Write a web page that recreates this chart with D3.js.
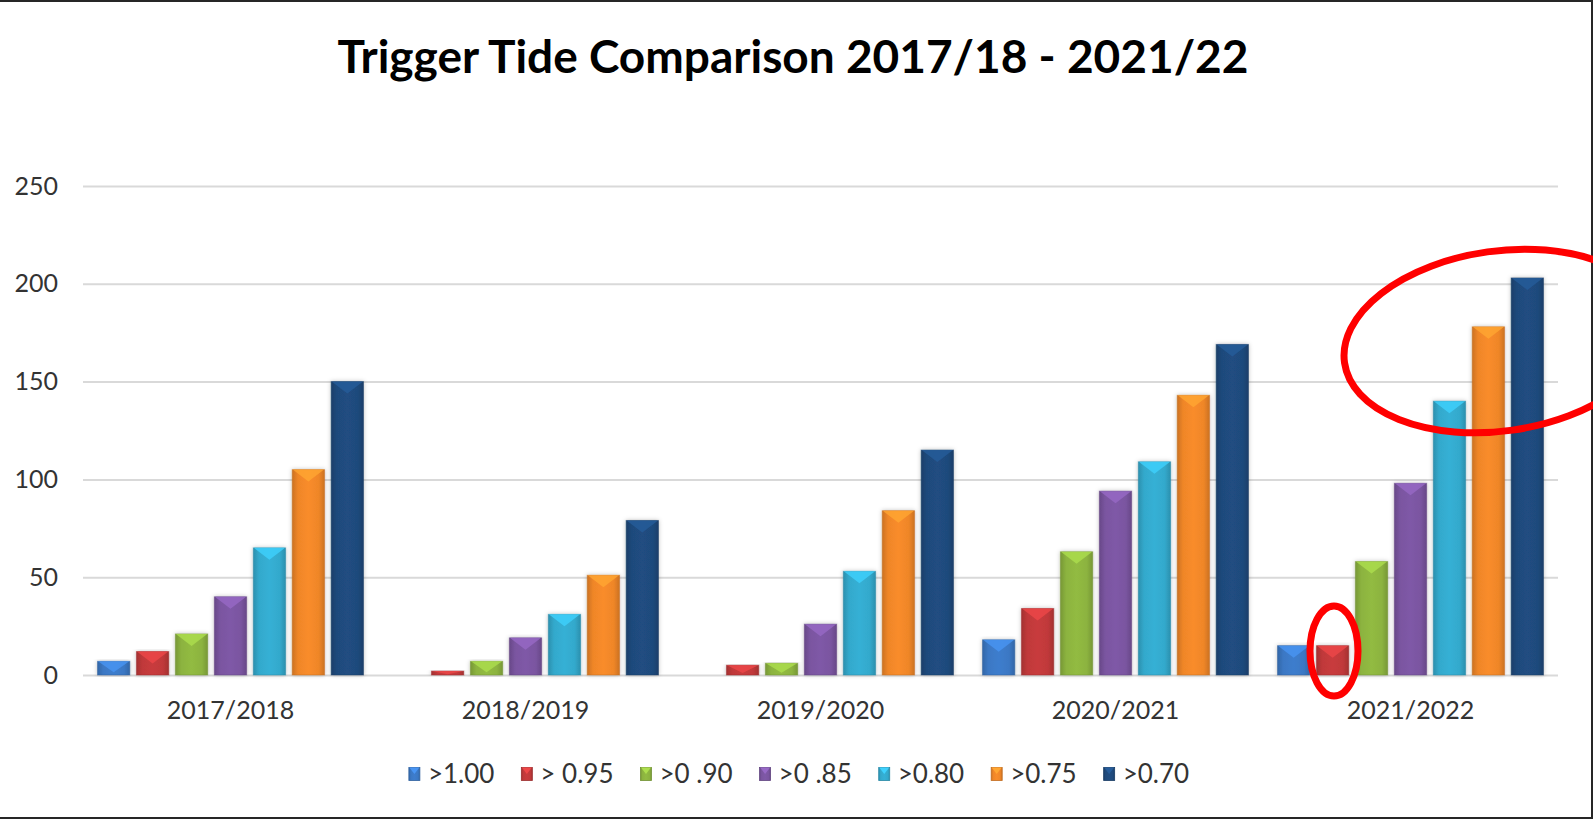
<!DOCTYPE html>
<html>
<head>
<meta charset="utf-8">
<script src="https://cdn.jsdelivr.net/npm/d3@7"></script>
<style>
  body { margin: 0; background: #fff; }
  text { font-family: Lato, "Open Sans", sans-serif; }
</style>
</head>
<body>
<div id="chart"></div>
<script>
// data
var years = ["2017/2018", "2018/2019", "2019/2020", "2020/2021", "2021/2022"];
var seriesNames = [">1.00", "> 0.95", ">0 .90", ">0 .85", ">0.80", ">0.75", ">0.70"];
var gt100 = [7, 0, 0, 18, 15];
var gt095 = [12, 2, 5, 34, 15];
var gt090 = [21, 7, 6, 63, 58];
var gt085 = [40, 19, 26, 94, 98];
var gt080 = [65, 31, 53, 109, 140];
var gt075 = [105, 51, 84, 143, 178];
var gt070 = [150, 79, 115, 169, 203];
var yTicks = [0, 50, 100, 150, 200, 250];

var seriesValues = [gt100, gt095, gt090, gt085, gt080, gt075, gt070];
var colors = ["#3b78c4", "#c0393a", "#8cb33f", "#7a55a0", "#33a9cc", "#ef8628", "#1f4a7c"];

var W = 1593, H = 819;
var margin = {top: 186, right: 35, bottom: 144, left: 83};
var width = W - margin.left - margin.right,
    height = H - margin.top - margin.bottom;

var svg = d3.select("#chart").append("svg")
    .attr("width", W)
    .attr("height", H);

var defs = svg.append("defs");

// horizontal shading for each series, darker at the edges
colors.forEach(function(c, i) {
    var g = defs.append("linearGradient")
        .attr("id", "grad" + i)
        .attr("x1", "0%").attr("x2", "100%").attr("y1", "0%").attr("y2", "0%");
    g.append("stop").attr("offset", "0%").attr("stop-color", d3.color(c).darker(0.45));
    g.append("stop").attr("offset", "18%").attr("stop-color", d3.color(c));
    g.append("stop").attr("offset", "50%").attr("stop-color", d3.color(c).brighter(0.12));
    g.append("stop").attr("offset", "82%").attr("stop-color", d3.color(c));
    g.append("stop").attr("offset", "100%").attr("stop-color", d3.color(c).darker(0.45));
});

var shadow = defs.append("filter").attr("id", "shadow")
    .attr("x", "-30%").attr("y", "-10%").attr("width", "160%").attr("height", "120%");
shadow.append("feDropShadow")
    .attr("dx", 0).attr("dy", 0).attr("stdDeviation", 2)
    .attr("flood-color", "#000").attr("flood-opacity", 0.25);

// frame
svg.append("rect").attr("x", 0).attr("y", 0).attr("width", W).attr("height", 2).attr("fill", "#262626");
svg.append("rect").attr("x", W - 2).attr("y", 0).attr("width", 2).attr("height", H).attr("fill", "#262626");
svg.append("rect").attr("x", 0).attr("y", H - 2).attr("width", W).attr("height", 2).attr("fill", "#262626");

// title
svg.append("text")
    .attr("x", 793)
    .attr("y", 73)
    .attr("text-anchor", "middle")
    .attr("font-size", 46)
    .attr("font-weight", "bold")
    .attr("fill", "#000")
    .text("Trigger Tide Comparison 2017/18 - 2021/22");

var g = svg.append("g")
    .attr("transform", "translate(" + margin.left + "," + margin.top + ")");

var y = d3.scaleLinear().domain([0, 250]).range([height, 0]);
var x0 = d3.scaleBand().domain(years).range([0, width]);
var x1 = d3.scaleBand().domain(seriesNames)
    .range([14.5, x0.bandwidth() - 14.5])
    .paddingInner(0.17);

// gridlines + y labels
var yAxis = g.append("g")
    .call(d3.axisLeft(y).tickValues(yTicks).tickSize(-width).tickPadding(25));
yAxis.select(".domain").remove();
yAxis.selectAll(".tick line").attr("stroke", "#d9d9d9").attr("stroke-width", 2);
yAxis.selectAll(".tick text")
    .attr("font-size", 25)
    .attr("fill", "#333")
    .style("font-family", "Lato, sans-serif");

var xAxis = g.append("g")
    .attr("transform", "translate(0," + height + ")")
    .call(d3.axisBottom(x0).tickSize(0).tickPadding(26));
xAxis.select(".domain").remove();
xAxis.selectAll(".tick text")
    .attr("font-size", 25)
    .attr("fill", "#333")
    .style("font-family", "Lato, sans-serif");

// bars
var bars = [];
years.forEach(function(yr, yi) {
    seriesNames.forEach(function(s, si) {
        bars.push({year: yr, series: s, si: si, value: seriesValues[si][yi]});
    });
});

var barG = g.append("g").selectAll("g.bar")
    .data(bars.filter(function(d) { return d.value > 0; }))
    .enter().append("g")
    .attr("class", "bar")
    .attr("transform", function(d) { return "translate(" + (x0(d.year) + x1(d.series)) + ",0)"; });

barG.append("rect")
    .attr("x", 0)
    .attr("y", function(d) { return y(d.value); })
    .attr("width", x1.bandwidth())
    .attr("height", function(d) { return height - y(d.value); })
    .attr("fill", function(d) { return "url(#grad" + d.si + ")"; })
    .attr("stroke", function(d) { return d3.color(colors[d.si]).darker(0.6); })
    .attr("stroke-opacity", 0.5)
    .attr("stroke-width", 1)
    .attr("filter", "url(#shadow)");

// top bevel, a lighter wedge
barG.append("path")
    .attr("d", function(d) {
        var w = x1.bandwidth(), top = y(d.value);
        var h = Math.min(12, (height - top) * 0.8);
        return "M0.5," + top + "L" + (w - 0.5) + "," + top + "L" + (w / 2) + "," + (top + h) + "Z";
    })
    .attr("fill", function(d) { return d3.color(colors[d.si]).brighter(0.6); })
    .attr("opacity", 0.8);

// legend
var legend = svg.append("g").attr("transform", "translate(0,774)");
var items = legend.selectAll("g.item")
    .data(seriesNames)
    .enter().append("g")
    .attr("class", "item");

items.append("rect")
    .attr("x", 0).attr("y", -6.5)
    .attr("width", 11).attr("height", 13)
    .attr("fill", function(d, i) { return "url(#grad" + i + ")"; })
    .attr("stroke", function(d, i) { return d3.color(colors[i]).darker(0.6); })
    .attr("stroke-width", 0.8);
items.append("path")
    .attr("d", "M0.5,-6.5L10.5,-6.5L5.5,0Z")
    .attr("fill", function(d, i) { return d3.color(colors[i]).brighter(0.6); });
items.append("text")
    .attr("x", 19)
    .attr("dy", "0.35em")
    .attr("font-size", 26)
    .attr("fill", "#333")
    .text(function(d) { return d; });

var gap = 27;
var pos = 0, offsets = [];
items.each(function() {
    offsets.push(pos);
    pos += this.getBBox().width + gap;
});
var total = pos - gap;
var startX = 799 - total / 2;
items.attr("transform", function(d, i) { return "translate(" + (startX + offsets[i]) + ",0)"; });

// red hand-drawn highlight rings
svg.append("ellipse")
    .attr("cx", 1500).attr("cy", 341)
    .attr("rx", 157).attr("ry", 90)
    .attr("transform", "rotate(-8,1500,341)")
    .attr("fill", "none").attr("stroke", "#ff0000").attr("stroke-width", 7);
svg.append("ellipse")
    .attr("cx", 1334).attr("cy", 651)
    .attr("rx", 24).attr("ry", 45)
    .attr("fill", "none").attr("stroke", "#ff0000").attr("stroke-width", 7);
</script>
</body>
</html>
